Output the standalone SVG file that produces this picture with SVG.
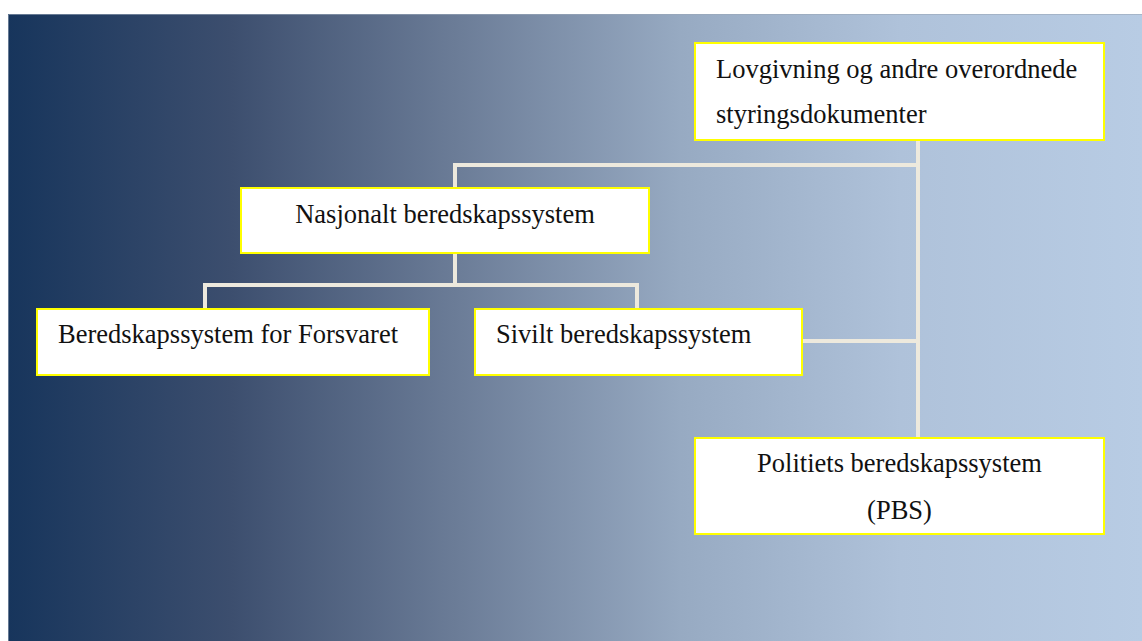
<svg xmlns="http://www.w3.org/2000/svg" width="1142" height="641" viewBox="0 0 1142 641">
  <defs>
    <linearGradient id="bg" gradientUnits="userSpaceOnUse" x1="8" y1="0" x2="1142" y2="0">
      <stop offset="0" stop-color="#17355c"/>
      <stop offset="0.196" stop-color="#3c4e6e"/>
      <stop offset="0.39" stop-color="#6a7b96"/>
      <stop offset="0.593" stop-color="#97aac2"/>
      <stop offset="0.787" stop-color="#afc2da"/>
      <stop offset="1" stop-color="#b8cce4"/>
    </linearGradient>
  </defs>
  <style>
    .box { fill: #ffffff; stroke: #ffff00; stroke-width: 2; }
    .lbl { font-family: "Liberation Serif", "Times New Roman", serif; font-size: 26.5px; fill: #111111; }
    .mid { text-anchor: middle; }
    .conn { fill: none; stroke: #ede9dd; stroke-width: 4; stroke-linejoin: miter; }
  </style>
  <rect x="0" y="0" width="1142" height="641" fill="#ffffff"/>
  <rect x="8" y="14" width="1134" height="627" fill="url(#bg)"/>
  <path d="M8.5 641 V14.5 H1142" fill="none" stroke="#9aa6b8" stroke-width="1" opacity="0.6"/>

  <g id="connectors">
    <path class="conn" d="M918 140 V438"/>
    <path class="conn" d="M918 165 H455 V188"/>
    <path class="conn" d="M455 253 V285"/>
    <path class="conn" d="M205 309 V285 H637 V309"/>
    <path class="conn" d="M802 341 H918"/>
  </g>

  <g id="lovgivning">
    <rect class="box" x="695" y="43" width="409" height="97"/>
    <text class="lbl" x="716" y="78">Lovgivning og andre overordnede</text>
    <text class="lbl" x="716" y="123">styringsdokumenter</text>
  </g>

  <g id="nasjonalt">
    <rect class="box" x="241" y="188" width="408" height="65"/>
    <text class="lbl mid" x="445" y="223">Nasjonalt beredskapssystem</text>
  </g>

  <g id="forsvaret">
    <rect class="box" x="37" y="309" width="392" height="66"/>
    <text class="lbl" x="58" y="343">Beredskapssystem for Forsvaret</text>
  </g>

  <g id="sivilt">
    <rect class="box" x="475" y="309" width="327" height="66"/>
    <text class="lbl" x="496" y="343">Sivilt beredskapssystem</text>
  </g>

  <g id="politiets">
    <rect class="box" x="695" y="438" width="409" height="96"/>
    <text class="lbl mid" x="899.5" y="472">Politiets beredskapssystem</text>
    <text class="lbl mid" x="899.5" y="519">(PBS)</text>
  </g>
</svg>
